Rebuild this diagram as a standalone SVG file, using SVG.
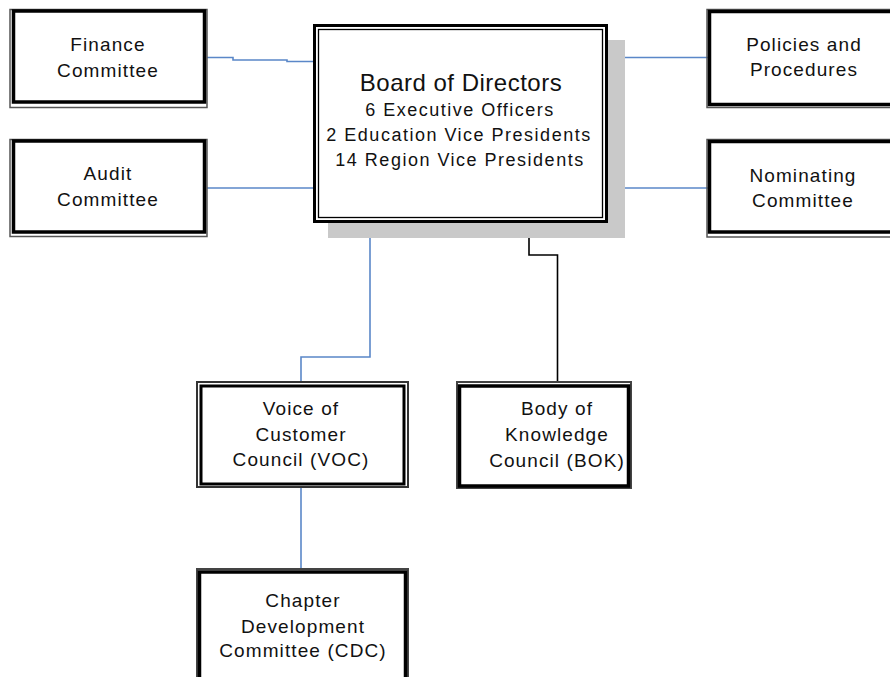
<svg xmlns="http://www.w3.org/2000/svg" width="890" height="677" viewBox="0 0 890 677">
<style>
.outer{fill:none;stroke:#555;stroke-width:1.5}
.inner{fill:#fff;stroke:#000;stroke-width:3.5}
.t{font-family:"Liberation Sans",Arial,sans-serif;font-size:19px;letter-spacing:1.1px;fill:#111;text-anchor:middle}
.sub{font-size:18px;letter-spacing:1.5px}
.title{font-size:24px;letter-spacing:0.5px}
.blue{stroke:#5a87c8;stroke-width:1.6;fill:none}
.black{stroke:#000;stroke-width:1.6;fill:none}
</style>
<rect width="890" height="677" fill="#fff"/>
<g id="connectors">
<polyline class="blue" points="207,57.5 233,57.5 233,60 287,60 287,61.5 313,61.5"/>
<line class="blue" x1="207" y1="188" x2="313" y2="188"/>
<line class="blue" x1="605" y1="57.5" x2="708" y2="57.5"/>
<line class="blue" x1="609" y1="188" x2="708" y2="188"/>
<polyline class="blue" points="370,222 370,357 301,357 301,383"/>
<polyline class="black" points="529,222 529,255 557.5,255 557.5,383"/>
<line class="blue" x1="301" y1="486" x2="301" y2="569"/>
</g>
<g id="finance">
<rect class="outer" x="10" y="9.5" width="197" height="98"/>
<rect class="inner" x="13.5" y="11" width="191" height="91"/>
<text class="t" x="108" y="51">Finance</text>
<text class="t" x="108" y="77">Committee</text>
</g>
<g id="audit">
<rect class="outer" x="10" y="139.5" width="197" height="97"/>
<rect class="inner" x="13.5" y="141" width="191" height="91"/>
<text class="t" x="108" y="180">Audit</text>
<text class="t" x="108" y="206">Committee</text>
</g>
<g id="board">
<rect x="328" y="40" width="297" height="198" fill="#c9c9c9"/>
<rect x="314.5" y="25.5" width="292" height="196" fill="#fff" stroke="#000" stroke-width="3"/>
<rect x="318.5" y="29.5" width="284" height="188" fill="none" stroke="#000" stroke-width="1.3"/>
<text class="t title" x="461" y="91">Board of Directors</text>
<text class="t sub" x="460" y="116">6 Executive Officers</text>
<text class="t sub" x="459" y="141">2 Education Vice Presidents</text>
<text class="t sub" x="460" y="166">14 Region Vice Presidents</text>
</g>
<g id="policies">
<rect class="outer" x="707" y="9.5" width="200" height="98"/>
<rect class="inner" x="709.5" y="11.5" width="200" height="93"/>
<text class="t" x="804" y="51">Policies and</text>
<text class="t" x="804" y="76">Procedures</text>
</g>
<g id="nominating">
<rect class="outer" x="707" y="139.5" width="200" height="97.5"/>
<rect class="inner" x="709.5" y="141.5" width="200" height="90.5"/>
<text class="t" x="803" y="182">Nominating</text>
<text class="t" x="803" y="207">Committee</text>
</g>
<g id="voc">
<rect x="197" y="382" width="211" height="105" fill="#fff" stroke="#333" stroke-width="2"/>
<rect x="201" y="386" width="203" height="98" fill="none" stroke="#000" stroke-width="3"/>
<text class="t" x="301" y="415">Voice of</text>
<text class="t" x="301" y="441">Customer</text>
<text class="t" x="301" y="466">Council (VOC)</text>
</g>
<g id="bok">
<rect x="457" y="382" width="174" height="106" fill="#fff" stroke="#444" stroke-width="2"/>
<rect x="459.5" y="386" width="169" height="100" fill="none" stroke="#000" stroke-width="3.5"/>
<text class="t" x="557" y="415">Body of</text>
<text class="t" x="557" y="441">Knowledge</text>
<text class="t" x="557" y="467">Council (BOK)</text>
</g>
<g id="cdc">
<rect x="197" y="569" width="211" height="120" fill="#fff" stroke="#444" stroke-width="2"/>
<rect x="199.5" y="572" width="206" height="120" fill="none" stroke="#000" stroke-width="3.5"/>
<text class="t" x="303" y="607">Chapter</text>
<text class="t" x="303" y="633">Development</text>
<text class="t" x="303" y="657">Committee (CDC)</text>
</g>
</svg>
